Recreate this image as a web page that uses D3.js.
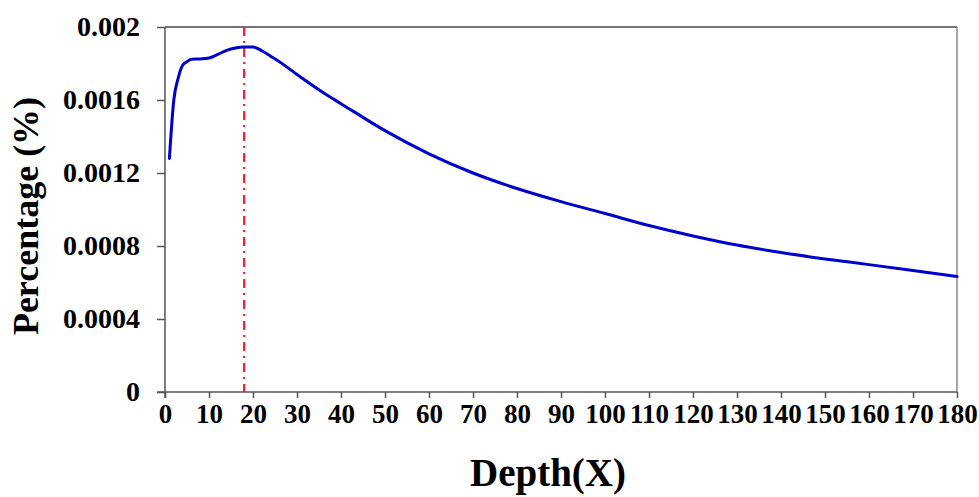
<!DOCTYPE html>
<html>
<head>
<meta charset="utf-8">
<script src="https://cdn.jsdelivr.net/npm/d3@7"></script>
<style>
  html, body { margin: 0; padding: 0; background: #fff; }
  svg { display: block; }
  text { font-family: "Liberation Serif", "Times New Roman", serif; font-weight: bold; fill: #000; }
</style>
</head>
<body>
<svg id="chart" width="979" height="497"></svg>
<script>
// Data
const depth = [1, 2, 3, 4, 5, 6, 8, 10, 12, 14, 16, 18, 20, 22, 24, 26, 30, 36, 40, 50, 60, 70, 80, 90, 100, 110, 120, 130, 140, 150, 160, 170, 180];
const percentage = [0.00128, 0.00160, 0.00172, 0.00179, 0.00181, 0.001823, 0.001825, 0.00183, 0.00185, 0.001872, 0.001885, 0.00189, 0.00189, 0.00187, 0.00184, 0.00181, 0.00174, 0.00164, 0.00158, 0.001432, 0.001305, 0.00120, 0.001115, 0.001043, 0.000978, 0.000912, 0.000855, 0.000805, 0.000764, 0.000729, 0.000698, 0.000666, 0.000633];
const xTicks = [0, 10, 20, 30, 40, 50, 60, 70, 80, 90, 100, 110, 120, 130, 140, 150, 160, 170, 180];
const yTicks = [0, 0.0004, 0.0008, 0.0012, 0.0016, 0.002];
const yTickLabels = ["0", "0.0004", "0.0008", "0.0012", "0.0016", "0.002"];
const peakDepth = [18];
const xTitle = "Depth(X)";
const yTitle = "Percentage (%)";

const svg = d3.select("#chart");
const mLeft = 165, mRight = 957, mTop = 27, mBottom = 392;

const x = d3.scaleLinear().domain([0, 180]).range([mLeft, mRight]);
const y = d3.scaleLinear().domain([0, 0.002]).range([mBottom, mTop]);

// frame: top and right borders
svg.append("line").attr("x1", mLeft).attr("x2", mRight).attr("y1", mTop).attr("y2", mTop)
  .attr("stroke", "#444").attr("stroke-width", 1.5);
svg.append("line").attr("x1", mRight).attr("x2", mRight).attr("y1", mTop).attr("y2", mBottom)
  .attr("stroke", "#888").attr("stroke-width", 1.5);

// X axis
const xAxis = svg.append("g").attr("transform", `translate(0,${mBottom})`)
  .call(d3.axisBottom(x).tickValues(xTicks).tickSize(6).tickSizeOuter(0).tickPadding(6).tickFormat(d3.format("d")));
xAxis.select(".domain").attr("stroke", "#555").attr("stroke-width", 1.5).attr("d", `M${mLeft - 8},0H${mRight}`);
xAxis.selectAll(".tick line").attr("stroke", "#555").attr("stroke-width", 1.5);
xAxis.selectAll(".tick text").attr("font-size", 27).attr("font-family", "Liberation Serif").attr("font-weight", "bold").attr("fill", "#000");

// Y axis
const yAxis = svg.append("g").attr("transform", `translate(${mLeft},0)`)
  .call(d3.axisLeft(y).tickValues(yTicks).tickSize(8).tickSizeOuter(0).tickPadding(17).tickFormat((d, i) => yTickLabels[i]));
yAxis.select(".domain").attr("stroke", "#555").attr("stroke-width", 1.5).attr("d", `M0,${mTop}V${mBottom + 6}`);
yAxis.selectAll(".tick line").attr("stroke", "#555").attr("stroke-width", 1.5);
yAxis.selectAll(".tick text").attr("font-size", 28).attr("font-family", "Liberation Serif").attr("font-weight", "bold").attr("fill", "#000");

// Peak marker (dash-dot)
svg.selectAll(".peak").data(peakDepth).enter().append("line")
  .attr("class", "peak")
  .attr("x1", d => x(d)).attr("x2", d => x(d))
  .attr("y1", mTop).attr("y2", mBottom)
  .attr("stroke", "#e8202a").attr("stroke-width", 2.2)
  .attr("stroke-dasharray", "9,5,2,5");

// Curve
const data = depth.map((d, i) => ({ d, v: percentage[i] }));
svg.append("path").datum(data)
  .attr("fill", "none").attr("stroke", "#0000cc").attr("stroke-width", 3)
  .attr("stroke-linejoin", "round").attr("stroke-linecap", "round")
  .attr("d", d3.line().x(p => x(p.d)).y(p => y(p.v)).curve(d3.curveMonotoneX));

// Titles
svg.append("text").attr("x", 548).attr("y", 486).attr("text-anchor", "middle")
  .attr("font-size", 39).text(xTitle);
svg.append("text").attr("transform", "translate(38,216) rotate(-90)").attr("text-anchor", "middle")
  .attr("font-size", 36).text(yTitle);
</script>
</body>
</html>
